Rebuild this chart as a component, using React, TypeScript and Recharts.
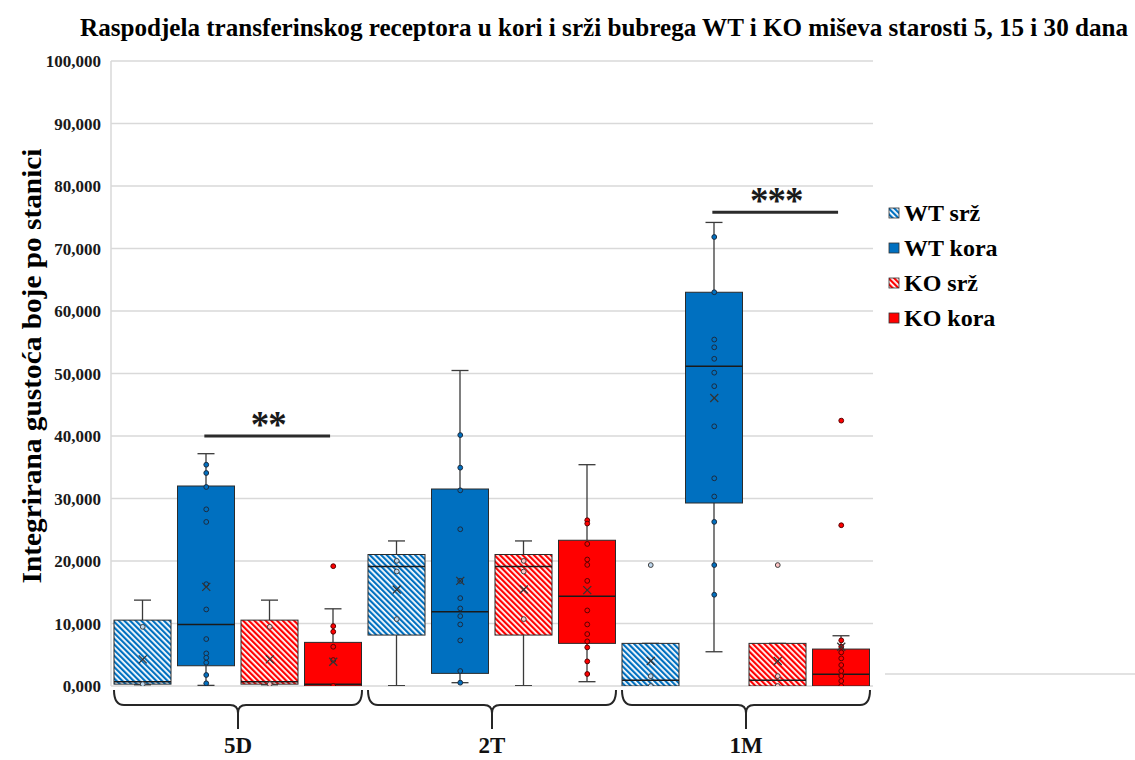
import React from 'react';
import { ComposedChart, Bar, Scatter, XAxis, YAxis, CartesianGrid, ReferenceLine } from 'recharts';

const FONT = "'Liberation Serif', 'Times New Roman', serif";

const titleText = 'Raspodjela transferinskog receptora u kori i srži bubrega WT i KO miševa starosti 5, 15 i 30 dana';
const yAxisTitle = 'Integrirana gustoća boje po stanici';

const groups = ['5D', '2T', '1M'];
const seriesNames = ['WT srž', 'WT kora', 'KO srž', 'KO kora'];

// five-number summaries per group: [min, q1, median, q3, max]
const wtSrzBox = [[200, 300, 700, 10540, 13740], [50, 8150, 19120, 21040, 23210], [0, 0, 910, 6820, 6820]];
const wtKoraBox = [[100, 3240, 9850, 32000, 37170], [530, 2020, 11870, 31520, 50480], [5480, 29280, 51170, 63000, 74170]];
const koSrzBox = [[200, 300, 700, 10540, 13740], [50, 8150, 19120, 21040, 23210], [0, 0, 910, 6820, 6820]];
const koKoraBox = [[0, 0, 300, 6980, 12350], [690, 6820, 14380, 23320, 35410], [0, 0, 1870, 5910, 8040]];

const wtSrzMean = [4260, 15440, 3990];
const wtKoraMean = [15860, 16820, 46090];
const koSrzMean = [4260, 15440, 3990];
const koKoraMean = [3890, 15340, 6280];

const wtSrzPoints = [[9470, 300], [20020, 18320, 10700], [19350, 1580, 0]];
const wtKoraPoints = [
  [35400, 34080, 31840, 28270, 26250, 16290, 12250, 7510, 5220, 4520, 3730, 1760, 430],
  [40150, 34930, 31310, 25080, 16820, 14060, 12410, 11180, 9850, 7290, 2400, 530],
  [71840, 63000, 55430, 54190, 52350, 50130, 47970, 41550, 33230, 30320, 26260, 19350, 14600],
];
const koSrzPoints = [[9470, 300], [20020, 18320, 10700], [19350, 1580, 0]];
const koKoraPoints = [
  [19170, 9580, 8680, 6280, 4150, 0],
  [26520, 25990, 22730, 20240, 19380, 16820, 12090, 9850, 8310, 7140, 6180, 3940, 1920],
  [42460, 25720, 7300, 6290, 5380, 4420, 3350, 2400, 1600, 800, 0],
];

const yTicks = [0, 10000, 20000, 30000, 40000, 50000, 60000, 70000, 80000, 90000, 100000];

const sigLabels = ['**', '***'];
const sigGroups = [0, 2];
const sigLevels = [40000, 75800];

const boxes = [wtSrzBox, wtKoraBox, koSrzBox, koKoraBox];
const means = [wtSrzMean, wtKoraMean, koSrzMean, koKoraMean];
const points = [wtSrzPoints, wtKoraPoints, koSrzPoints, koKoraPoints];

const seriesColors = ['#0070C0', '#0070C0', '#FF0000', '#FF0000'];
const seriesStriped = [true, false, true, false];
const pointFills = ['#bdd7ee', '#0070C0', '#ffc4c4', '#FF0000'];
const pointStrokes = ['#404040', '#1c2b3f', '#404040', '#5a0000'];

const seriesKeys = ['wtSrz', 'wtKora', 'koSrz', 'koKora'];
const chartData = groups.map((g, i) => {
  const row: any = { group: g, i };
  seriesKeys.forEach((k, s) => {
    row[k] = [boxes[s][i][0], boxes[s][i][4]];
  });
  return row;
});
const slots = groups.length * seriesNames.length;

const fmt = (v: number) => (v / 1000).toFixed(3).replace('.', ',');

const Stripes = ({ id, color }: { id: string; color: string }) => (
  <pattern id={id} width={4} height={4} patternUnits="userSpaceOnUse" patternTransform="rotate(-45)">
    <rect x={0} y={0} width={4} height={4} fill="#ffffff" />
    <rect x={0} y={0} width={2.2} height={4} fill={color} />
  </pattern>
);

const BoxShape = (p: any) => {
  const { x, y, width, height, s } = p;
  let idx = p.payload && typeof p.payload.i === 'number' ? p.payload.i : p.index;
  if (typeof idx !== 'number' || !boxes[s] || !boxes[s][idx]) return <g />;
  if ([x, y, width, height].some((v) => typeof v !== 'number' || isNaN(v))) return <g />;
  const [mn, q1, md, q3, mx] = boxes[s][idx];
  const span = mx - mn || 1;
  const py = (v: number) => y + (height * (mx - v)) / span;
  const cx = x + width / 2;
  const cap = 8.5;
  const stroke = '#3a3a3a';
  const pid = `stripe-${s}-${idx}`;
  const fill = seriesStriped[s] ? `url(#${pid})` : seriesColors[s];
  return (
    <g>
      {seriesStriped[s] && (
        <defs>
          <Stripes id={pid} color={seriesColors[s]} />
        </defs>
      )}
      <line x1={cx} x2={cx} y1={py(mx)} y2={py(q3)} stroke={stroke} strokeWidth={1.3} />
      <line x1={cx} x2={cx} y1={py(q1)} y2={py(mn)} stroke={stroke} strokeWidth={1.3} />
      <line x1={cx - cap} x2={cx + cap} y1={py(mx)} y2={py(mx)} stroke={stroke} strokeWidth={1.3} />
      <line x1={cx - cap} x2={cx + cap} y1={py(mn)} y2={py(mn)} stroke={stroke} strokeWidth={1.3} />
      <rect x={x} y={py(q3)} width={width} height={Math.max(py(q1) - py(q3), 0.5)} fill={fill} stroke="#2b2b2b" strokeWidth={1} />
      <line x1={x} x2={x + width} y1={py(md)} y2={py(md)} stroke="#1a1a1a" strokeWidth={1.5} />
    </g>
  );
};

const YTick = (p: any) => (
  <text x={p.x} y={p.y} dy={6} textAnchor="end" fontFamily={FONT} fontWeight="bold" fontSize={17} fill="#1a1a1a">
    {fmt(p.payload.value)}
  </text>
);

const XTick = (p: any) => {
  const cx = p.x;
  const y = p.y;
  const w = 124;
  const d = `M ${cx - w} ${y + 4} Q ${cx - w} ${y + 19} ${cx - w + 10} ${y + 19} L ${cx - 8} ${y + 19} Q ${cx} ${y + 19} ${cx} ${y + 27} L ${cx} ${y + 43} M ${cx} ${y + 27} Q ${cx} ${y + 19} ${cx + 8} ${y + 19} L ${cx + w - 10} ${y + 19} Q ${cx + w} ${y + 19} ${cx + w} ${y + 4}`;
  return (
    <g>
      <path d={d} fill="none" stroke="#262626" strokeWidth={2} />
      <text x={cx} y={y + 67} textAnchor="middle" fontFamily={FONT} fontWeight="bold" fontSize={23} fill="#111">
        {p.payload.value}
      </text>
    </g>
  );
};

const SigLabel = (text: string) => (props: any) => {
  const vb = props.viewBox || {};
  if (typeof vb.x !== 'number') return null;
  return (
    <text x={vb.x + (vb.width || 0) / 2 + 1} y={vb.y + 1} textAnchor="middle" fontFamily={FONT} fontWeight="bold" fontSize={37} fill="#1a1a1a" letterSpacing={-1}>
      {text}
    </text>
  );
};

export default function App() {
  return (
    <div style={{ position: 'absolute', left: 0, top: 0, width: 1135, height: 760, background: '#fff' }}>
      <ComposedChart
        width={1135}
        height={760}
        data={chartData}
        margin={{ top: 61, right: 262, bottom: 0, left: 0 }}
        barGap={6.5}
        barSize={57}
      >
        <CartesianGrid vertical={false} stroke="#d9d9d9" strokeWidth={1.5} />
        <XAxis dataKey="group" height={74} axisLine={false} tickLine={false} tickSize={0} tickMargin={0} tick={<XTick />} interval={0} />
        <XAxis xAxisId="n" type="number" dataKey="x" domain={[0, slots]} hide allowDataOverflow />
        <YAxis
          type="number"
          domain={[0, 100000]}
          ticks={yTicks}
          interval={0}
          width={111}
          axisLine={{ stroke: '#d9d9d9', strokeWidth: 1.5 }}
          tickLine={false}
          tickSize={0}
          tickMargin={10}
          tick={<YTick />}
          allowDataOverflow
        />
        {seriesKeys.map((k, s) => (
          <Bar
            key={`b${s}`}
            name={seriesNames[s]}
            dataKey={k}
            isAnimationActive={false}
            shape={(p: any) => <BoxShape {...p} s={s} />}
            activeBar={false}
          />
        ))}
        {points.map((pts, s) => (
          <Scatter
            key={`p${s}`}
            xAxisId="n"
            dataKey="y"
            legendType="none"
            isAnimationActive={false}
            data={pts.flatMap((arr, g) => arr.map((v) => ({ x: g * seriesNames.length + s + 0.5, y: v })))}
            shape={(p: any) => <circle cx={p.cx} cy={p.cy} r={2.4} fill={pointFills[s]} stroke={pointStrokes[s]} strokeWidth={1} />}
          />
        ))}
        {means.map((m, s) => (
          <Scatter
            key={`m${s}`}
            xAxisId="n"
            dataKey="y"
            legendType="none"
            isAnimationActive={false}
            data={m.map((v, g) => ({ x: g * seriesNames.length + s + 0.5, y: v }))}
            shape={(p: any) => (
              <g stroke="#333" strokeWidth={1.3}>
                <line x1={p.cx - 4} y1={p.cy - 4} x2={p.cx + 4} y2={p.cy + 4} />
                <line x1={p.cx - 4} y1={p.cy + 4} x2={p.cx + 4} y2={p.cy - 4} />
              </g>
            )}
          />
        ))}
        {sigLabels.map((lab, k) => (
          <ReferenceLine
            key={`s${k}`}
            xAxisId="n"
            segment={[
              { x: sigGroups[k] * seriesNames.length + 1.47, y: sigLevels[k] },
              { x: sigGroups[k] * seriesNames.length + 3.45, y: sigLevels[k] },
            ]}
            stroke="#2b2b2b"
            strokeWidth={3}
            label={SigLabel(lab)}
          />
        ))}
      </ComposedChart>
      <svg width={1135} height={760} style={{ position: 'absolute', left: 0, top: 0, pointerEvents: 'none' }}>
        <defs>
          <Stripes id="leg-stripe-0" color={seriesColors[0]} />
          <Stripes id="leg-stripe-2" color={seriesColors[2]} />
        </defs>
        <text x={604} y={36} textAnchor="middle" fontFamily={FONT} fontWeight="bold" fontSize={25} fill="#000" textLength={1048} lengthAdjust="spacingAndGlyphs">
          {titleText}
        </text>
        <text transform="translate(41,366) rotate(-90)" textAnchor="middle" fontFamily={FONT} fontWeight="bold" fontSize={27} fill="#000" textLength={435} lengthAdjust="spacingAndGlyphs">
          {yAxisTitle}
        </text>
        {seriesNames.map((n, i) => (
          <g key={n} transform={`translate(0, ${i * 35})`}>
            <rect x={889} y={208} width={10} height={10} fill={seriesStriped[i] ? `url(#leg-stripe-${i})` : seriesColors[i]} stroke="#333" strokeWidth={0.8} />
            <text x={904} y={221} fontFamily={FONT} fontWeight="bold" fontSize={24} fill="#000">
              {n}
            </text>
          </g>
        ))}
        <line x1={885} x2={1135} y1={674} y2={674} stroke="#d9d9d9" strokeWidth={1.5} />
      </svg>
    </div>
  );
}
